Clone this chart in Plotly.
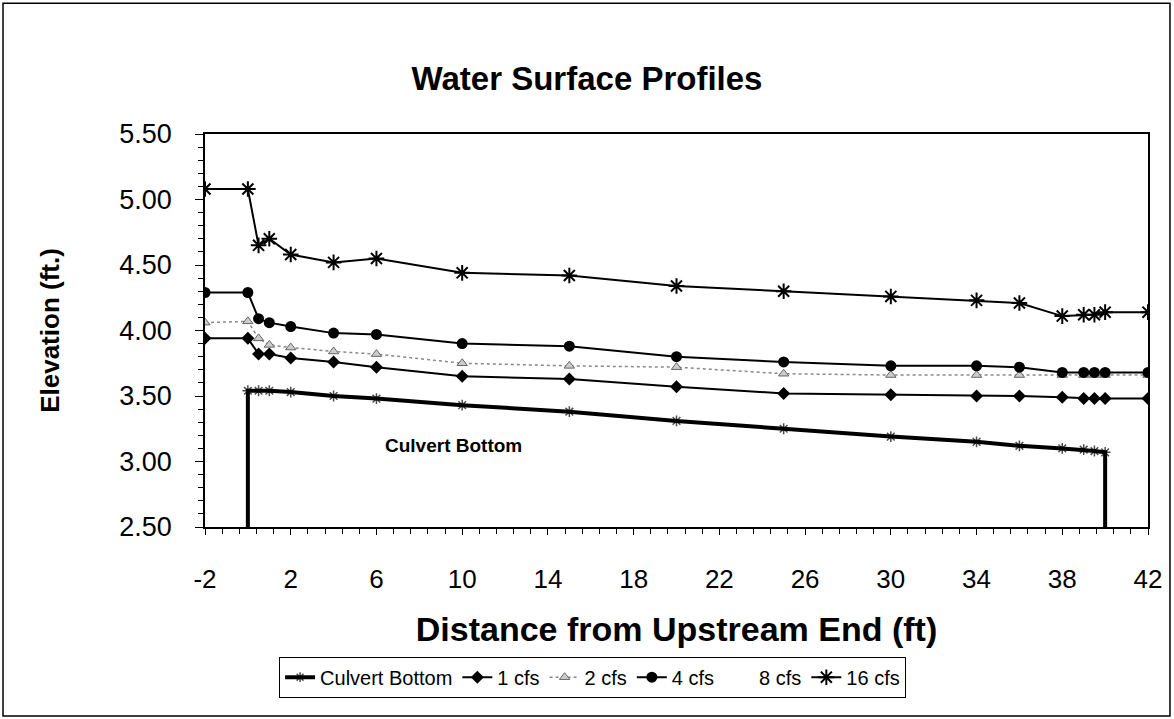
import plotly.graph_objects as go

FONT = "Liberation Sans, Arial, sans-serif"

# station distances (ft) for the water surface profiles
dist = [-2, 0, 0.5, 1, 2, 4, 6, 10, 15, 20, 25, 30, 34, 36, 38, 39, 39.5, 40, 42]

# culvert invert, with vertical walls at both ends
culvert_x = [0, 0, 0.5, 1, 2, 4, 6, 10, 15, 20, 25, 30, 34, 36, 38, 39, 39.5, 40, 40]
culvert_y = [2.50, 3.54, 3.54, 3.54, 3.53, 3.50, 3.48, 3.43, 3.38, 3.31, 3.25,
             3.19, 3.15, 3.12, 3.10, 3.09, 3.08, 3.07, 2.50]

q1 = [3.94, 3.94, 3.82, 3.82, 3.79, 3.76, 3.72, 3.65, 3.63, 3.57, 3.52,
      3.51, 3.50, 3.50, 3.49, 3.48, 3.48, 3.48, 3.48]
q2 = [4.06, 4.07, 3.94, 3.89, 3.87, 3.84, 3.82, 3.75, 3.73, 3.72, 3.67,
      3.66, 3.66, 3.66, 3.66, 3.66, 3.66, 3.66, 3.66]
q4 = [4.29, 4.29, 4.09, 4.06, 4.03, 3.98, 3.97, 3.90, 3.88, 3.80, 3.76,
      3.73, 3.73, 3.72, 3.68, 3.68, 3.68, 3.68, 3.68]
q16 = [5.08, 5.08, 4.65, 4.70, 4.58, 4.52, 4.55, 4.44, 4.42, 4.34, 4.30,
       4.26, 4.23, 4.21, 4.11, 4.12, 4.12, 4.14, 4.14]

x_ticks = [-2, 2, 6, 10, 14, 18, 22, 26, 30, 34, 38, 42]
x_tick_labels = ["-2", "2", "6", "10", "14", "18", "22", "26", "30", "34", "38", "42"]

fig = go.Figure()

fig.add_trace(go.Scatter(
    x=culvert_x, y=culvert_y, name="Culvert Bottom", mode="lines+markers",
    line=dict(color="black", width=4),
    marker=dict(symbol="asterisk-open", size=[0] + [9] * 17 + [0],
                line=dict(color="black", width=1.5)),
))
fig.add_trace(go.Scatter(
    x=dist, y=q1, name="1 cfs", mode="lines+markers",
    line=dict(color="black", width=2),
    marker=dict(symbol="diamond", size=10, color="black"),
))
fig.add_trace(go.Scatter(
    x=dist, y=q2, name="2 cfs", mode="lines+markers",
    line=dict(color="#888888", width=1.5, dash="dot"),
    marker=dict(symbol="triangle-up", size=9, color="#cccccc",
                line=dict(color="#666666", width=1)),
))
fig.add_trace(go.Scatter(
    x=dist, y=q4, name="4 cfs", mode="lines+markers",
    line=dict(color="black", width=2),
    marker=dict(symbol="circle", size=11, color="black"),
))
fig.add_trace(go.Scatter(
    x=[None], y=[None], name="8 cfs", mode="lines",
    line=dict(color="rgba(255,255,255,0)", width=2),
))
fig.add_trace(go.Scatter(
    x=dist, y=q16, name="16 cfs", mode="lines+markers",
    line=dict(color="black", width=2),
    marker=dict(symbol="asterisk-open", size=13,
                line=dict(color="black", width=2)),
))

fig.add_annotation(
    x=9.6, y=3.12, text="<b>Culvert Bottom</b>", showarrow=False,
    font=dict(family=FONT, size=19, color="black"),
)

# outer chart border
fig.add_shape(type="rect", xref="paper", yref="paper",
              x0=-0.2142, x1=1.0233, y0=-0.481, y1=1.333,
              line=dict(color="black", width=1.5), layer="below")

fig.update_layout(
    width=1174, height=719,
    paper_bgcolor="white", plot_bgcolor="white",
    margin=dict(l=205, r=26, t=134, b=192),
    title=dict(text="<b>Water Surface Profiles</b>", x=0.5, xanchor="center",
               y=0.8915, yanchor="middle",
               font=dict(family=FONT, size=33, color="black")),
    font=dict(family=FONT, color="black"),
    legend=dict(orientation="h", x=0.411, xanchor="center", y=-0.33,
                yanchor="top", bordercolor="black", borderwidth=1,
                font=dict(family=FONT, size=20), itemwidth=30,
                tracegroupgap=0),
    showlegend=True,
)

fig.update_xaxes(
    range=[-2, 42], tickvals=x_ticks, ticktext=x_tick_labels,
    showgrid=False, zeroline=False,
    showline=True, linecolor="black", linewidth=1.5, mirror=True,
    ticks="outside", ticklen=6, tickcolor="black", ticklabelstandoff=22,
    minor=dict(dtick=0.8, tick0=-2, ticks="outside", ticklen=5, tickcolor="black"),
    tickfont=dict(family=FONT, size=26),
    title=dict(text="<b>Distance from Upstream End (ft)</b>", standoff=24,
               font=dict(family=FONT, size=34)),
)
fig.update_yaxes(
    range=[2.5, 5.5], tick0=2.5, dtick=0.5, tickformat=".2f", showgrid=False,
    zeroline=False, showline=True, linecolor="black", linewidth=1.5, mirror=True,
    ticks="outside", ticklen=8, tickcolor="black", ticklabelstandoff=18,
    minor=dict(dtick=0.1, ticks="outside", ticklen=5, tickcolor="black"),
    tickfont=dict(family=FONT, size=27),
    title=dict(text="<b>Elevation (ft.)</b>", standoff=52,
               font=dict(family=FONT, size=26)),
)

fig.write_html("out.html", config={"displayModeBar": False},
               post_script="document.body.style.margin='0';")
